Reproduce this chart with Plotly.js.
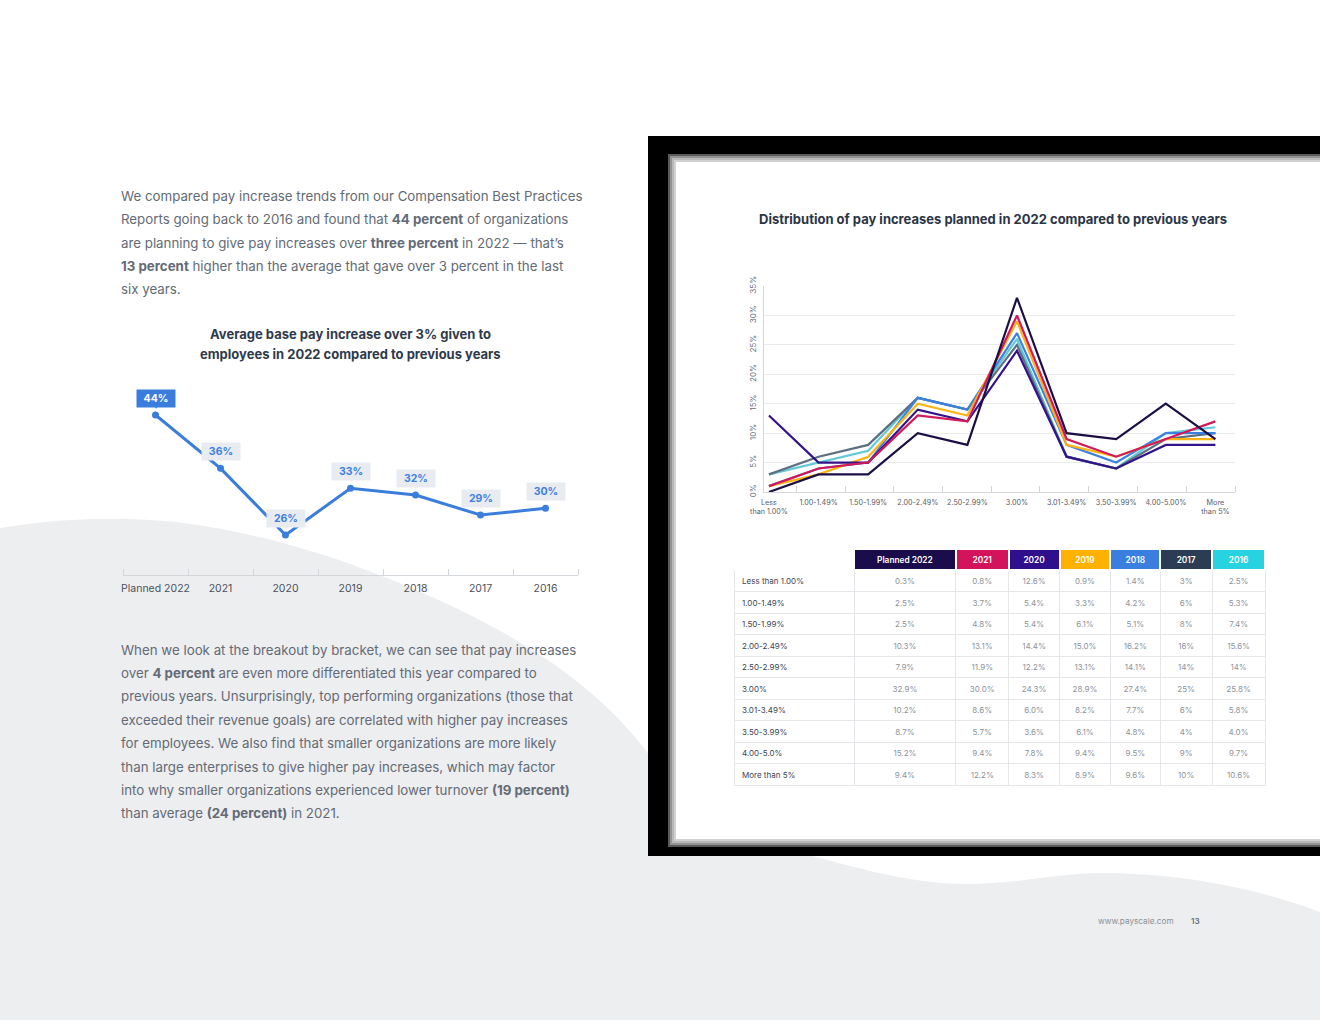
<!DOCTYPE html>
<html>
<head>
<meta charset="utf-8">
<script src="https://cdn.plot.ly/plotly-3.0.1.min.js"></script>
<style>
html,body{margin:0;padding:0;background:#fff;}
#chart{width:1320px;height:1020px;}
</style>
</head>
<body>
<div id="chart"></div>
<script>
// ---------- DATA ----------
const leftYears = ['Planned 2022','2021','2020','2019','2018','2017','2016'];
const leftValues = [44,36,26,33,32,29,30];

const chartBrackets = ['Less<br>than 1.00%','1.00-1.49%','1.50-1.99%','2.00-2.49%','2.50-2.99%','3.00%','3.01-3.49%','3.50-3.99%','4.00-5.00%','More<br>than 5%'];
const tableRowLabels = ['Less than 1.00%','1.00-1.49%','1.50-1.99%','2.00-2.49%','2.50-2.99%','3.00%','3.01-3.49%','3.50-3.99%','4.00-5.0%','More than 5%'];
const seriesNames = ['Planned 2022','2021','2020','2019','2018','2017','2016'];

const planned2022 = ['0.3','2.5','2.5','10.3','7.9','32.9','10.2','8.7','15.2','9.4'];
const y2021 = ['0.8','3.7','4.8','13.1','11.9','30.0','8.6','5.7','9.4','12.2'];
const y2020 = ['12.6','5.4','5.4','14.4','12.2','24.3','6.0','3.6','7.8','8.3'];
const y2019 = ['0.9','3.3','6.1','15.0','13.1','28.9','8.2','6.1','9.4','8.9'];
const y2018 = ['1.4','4.2','5.1','16.2','14.1','27.4','7.7','4.8','9.5','9.6'];
const y2017 = ['3','6','8','16','14','25','6','4','9','10'];
const y2016 = ['2.5','5.3','7.4','15.6','14','25.8','5.8','4.0','9.7','10.6'];
const seriesValues = [planned2022, y2021, y2020, y2019, y2018, y2017, y2016];

const headerColors = ['#1b0c4c','#d4145a','#2f0f8c','#ffb100','#3a7ee0','#2b3d55','#27d3e0'];
const lineColors   = ['#1c0f45','#cf1a5b','#33128a','#fbb316','#3b82e0','#5d6f80','#62c9d9'];

// ---------- HELPERS ----------
const W = 1320, H = 1020;
const FONT = "Inter, 'Noto Sans', sans-serif";
function X(x){return x/W;}
function Y(y){return 1 - y/H;}
function P(x,y){return X(x).toFixed(5)+','+Y(y).toFixed(5);}

const traces = [];

// Left chart
traces.push({
  type:'scatter', mode:'lines+markers',
  x: leftYears.map((_,i)=>i), y: leftValues,
  line:{color:'#3a7ddc', width:3}, marker:{color:'#3a7ddc', size:7},
  xaxis:'x', yaxis:'y', hoverinfo:'skip', showlegend:false
});

// Right chart (draw oldest first so Planned 2022 is on top)
for (let s = seriesNames.length-1; s >= 0; s--) {
  traces.push({
    type:'scatter', mode:'lines',
    name: seriesNames[s],
    x: chartBrackets.map((_,i)=>i),
    y: seriesValues[s].map(v=>Math.round(parseFloat(v))),
    line:{color: lineColors[s], width:2.2},
    xaxis:'x2', yaxis:'y2', hoverinfo:'skip', showlegend:false
  });
}

// Table
const cellCols = [tableRowLabels].concat(seriesValues.map(arr=>arr.map(v=>v+'%')));
traces.push({
  type:'table',
  domain:{x:[X(734), X(1265)], y:[Y(792), Y(549)]},
  columnwidth:[118,100,52,50,50,49,51,52],
  header:{
    values:[''].concat(seriesNames),
    fill:{color:['#ffffff'].concat(headerColors)},
    line:{color:'#ffffff', width:2},
    align:'center', height:21,
    font:{family:FONT, size:8.3, color:'#ffffff', weight:600}
  },
  cells:{
    values: cellCols,
    fill:{color:'#ffffff'},
    line:{color:'#e4e6e9', width:1},
    align:['left','center','center','center','center','center','center','center'],
    height:21.5,
    font:{family:FONT, size:8, color:[['#3c4551'],['#8d939b'],['#8d939b'],['#8d939b'],['#8d939b'],['#8d939b'],['#8d939b'],['#8d939b']]}
  }
});

// ---------- SHAPES ----------
const shapes = [];
const grayPath = 'M '+P(0,528)+' C '+P(50,520)+' '+P(90,518)+' '+P(130,519)+
  ' C '+P(250,522)+' '+P(380,570)+' '+P(470,615)+
  ' C '+P(560,660)+' '+P(620,710)+' '+P(660,770)+
  ' L '+P(660,856)+' L '+P(813,856)+
  ' C '+P(870,872)+' '+P(920,884)+' '+P(965,884)+
  ' C '+P(1020,884)+' '+P(1060,872)+' '+P(1110,873)+
  ' C '+P(1200,875)+' '+P(1270,893)+' '+P(1320,912)+
  ' L '+P(1320,1020)+' L '+P(0,1020)+' Z';
shapes.push({type:'path', xref:'paper', yref:'paper', path:grayPath, fillcolor:'#edeef0', line:{width:0}, layer:'below'});
// black frame
shapes.push({type:'rect', xref:'paper', yref:'paper', x0:X(648), x1:X(1320), y0:Y(856), y1:Y(136), fillcolor:'#000000', line:{width:0}, layer:'below'});
// blurred white panel edge
[4,2,0,-2].forEach(d=>{
  shapes.push({type:'rect', xref:'paper', yref:'paper', x0:X(672-d), x1:X(1320), y0:Y(843+d), y1:Y(158-d), fillcolor:'#ffffff', opacity:0.35, line:{width:0}, layer:'below'});
});
shapes.push({type:'rect', xref:'paper', yref:'paper', x0:X(676), x1:X(1320), y0:Y(839), y1:Y(162), fillcolor:'#ffffff', line:{width:0}, layer:'below'});

// ---------- ANNOTATIONS ----------
const annotations = [];
const textColor = '#646b75';
const para1 = [
  'We compared pay increase trends from our Compensation Best Practices',
  'Reports going back to 2016 and found that <b>44 percent</b> of organizations',
  'are planning to give pay increases over <b>three percent</b> in 2022 — that’s',
  '<b>13 percent</b> higher than the average that gave over 3 percent in the last',
  'six years.'
];
para1.forEach((t,i)=>annotations.push({xref:'paper', yref:'paper', x:X(119), y:Y(196+i*23.3), xanchor:'left', yanchor:'middle', text:t, showarrow:false, font:{family:FONT, size:13.3, color:textColor}}));
const para2 = [
  'When we look at the breakout by bracket, we can see that pay increases',
  'over <b>4 percent</b> are even more differentiated this year compared to',
  'previous years. Unsurprisingly, top performing organizations (those that',
  'exceeded their revenue goals) are correlated with higher pay increases',
  'for employees. We also find that smaller organizations are more likely',
  'than large enterprises to give higher pay increases, which may factor',
  'into why smaller organizations experienced lower turnover <b>(19 percent)</b>',
  'than average <b>(24 percent)</b> in 2021.'
];
para2.forEach((t,i)=>annotations.push({xref:'paper', yref:'paper', x:X(119), y:Y(649.5+i*23.4), xanchor:'left', yanchor:'middle', text:t, showarrow:false, font:{family:FONT, size:13.3, color:textColor}}));

// left chart title
['Average base pay increase over 3% given to','employees in 2022 compared to previous years'].forEach((t,i)=>
  annotations.push({xref:'paper', yref:'paper', x:X(350), y:Y(334+i*19.5), xanchor:'center', yanchor:'middle', text:t, showarrow:false, font:{family:FONT, size:13, color:'#2f3a4a', weight:700}}));

// right chart title
annotations.push({xref:'paper', yref:'paper', x:X(993), y:Y(219), xanchor:'center', yanchor:'middle', text:'Distribution of pay increases planned in 2022 compared to previous years', showarrow:false, font:{family:FONT, size:13, color:'#2b3545', weight:700}});

// badges on left chart
leftValues.forEach((v,i)=>{
  const first = i===0;
  const bg = first ? '#3a7ddc' : '#e8ecf1';
  annotations.push({xref:'x', yref:'y', x:i, y:v, yshift:9, text:'▼', showarrow:false, font:{size:6, color:bg}});
  annotations.push({xref:'x', yref:'y', x:i, y:v, yshift:17, text:v+'%', showarrow:false,
    bgcolor:bg, borderpad:2, width:34, height:13,
    font:{family:FONT, size:10.5, color: first ? '#ffffff' : '#3d7fdc', weight:700}});
});

// footer
annotations.push({xref:'paper', yref:'paper', x:X(1176), y:Y(921), xanchor:'right', yanchor:'middle', text:'www.payscale.com', showarrow:false, font:{family:FONT, size:8.2, color:'#8a9099'}});
annotations.push({xref:'paper', yref:'paper', x:X(1189), y:Y(921), xanchor:'left', yanchor:'middle', text:'13', showarrow:false, font:{family:FONT, size:8.2, color:'#6c737c', weight:600}});

// ---------- LAYOUT ----------
const layout = {
  width:W, height:H,
  margin:{l:0,r:0,t:0,b:0},
  paper_bgcolor:'#ffffff', plot_bgcolor:'rgba(0,0,0,0)',
  showlegend:false,
  font:{family:FONT},
  xaxis:{
    domain:[X(123), X(578)], range:[-0.5, 6.5], anchor:'y',
    tickmode:'array', tickvals:leftYears.map((_,i)=>i), ticktext:leftYears,
    ticks:'', showgrid:false, zeroline:false,
    showline:true, linecolor:'#d3d6da', linewidth:1,
    tickfont:{family:FONT, size:10.5, color:'#4a525c'}, ticklabelstandoff:3,
    minor:{tickmode:'array', tickvals:[-0.5,0.5,1.5,2.5,3.5,4.5,5.5,6.5], ticks:'inside', ticklen:6, tickcolor:'#d3d6da', showgrid:false},
    fixedrange:true
  },
  yaxis:{
    domain:[Y(575), Y(375)], range:[20,50], anchor:'x',
    visible:false, fixedrange:true
  },
  xaxis2:{
    domain:[X(764), X(1235)], range:[-0.1, 9.395], anchor:'y2',
    tickmode:'array', tickvals:chartBrackets.map((_,i)=>i), ticktext:chartBrackets,
    ticks:'', showgrid:false, zeroline:false,
    showline:true, linecolor:'#d3d6da', linewidth:1,
    tickfont:{family:FONT, size:7.2, color:'#555d68'}, tickangle:0, ticklabelstandoff:3,
    minor:{tickmode:'array', tickvals:[0.55,1.54,2.52,3.5,4.48,5.46,6.45,7.43,8.42,9.395], ticks:'inside', ticklen:6, tickcolor:'#d3d6da', showgrid:false},
    fixedrange:true
  },
  yaxis2:{
    domain:[Y(492), Y(286)], range:[0,35], anchor:'x2',
    dtick:5, tick0:0, ticksuffix:'%', tickangle:-90,
    showgrid:true, gridcolor:'#e9ebee', gridwidth:1, zeroline:false,
    showline:true, linecolor:'#d3d6da', linewidth:1,
    tickfont:{family:FONT, size:8, color:'#6a7280'}, ticks:'', ticklabelstandoff:4,
    fixedrange:true
  },
  shapes: shapes,
  annotations: annotations
};

Plotly.newPlot('chart', traces, layout, {displayModeBar:false, staticPlot:true});
</script>
</body>
</html>
